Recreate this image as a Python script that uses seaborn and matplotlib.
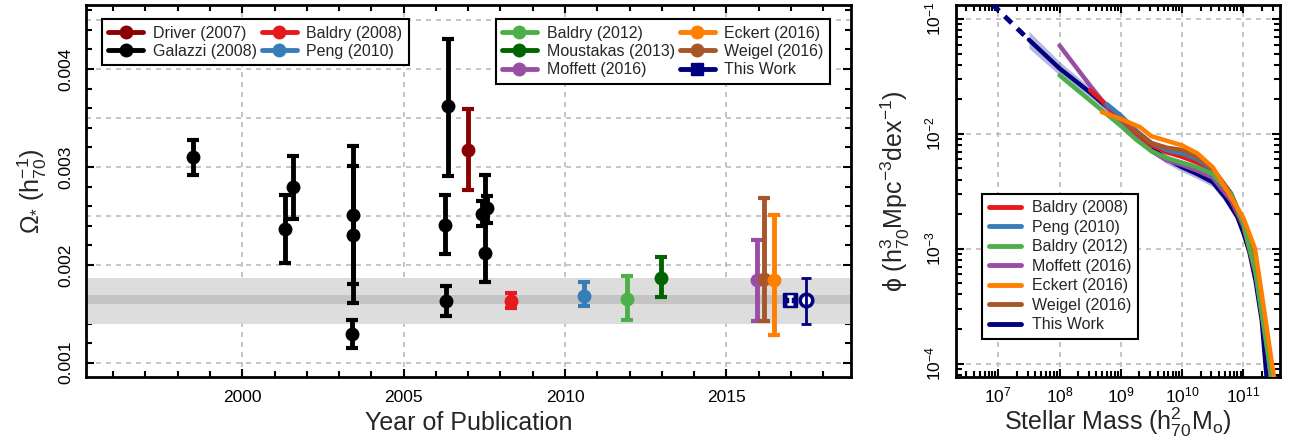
import numpy as np
import pandas as pd
import matplotlib
matplotlib.use('Agg')
import matplotlib.pyplot as plt
from matplotlib.lines import Line2D
from matplotlib.ticker import MultipleLocator, LogLocator, NullFormatter
import seaborn as sns

sns.set_theme(style='ticks')
plt.rcParams['font.family'] = ['Liberation Sans', 'DejaVu Sans']
plt.rcParams['mathtext.fontset'] = 'custom'
plt.rcParams['mathtext.rm'] = 'Liberation Sans'
plt.rcParams['mathtext.it'] = 'Liberation Sans:italic'
plt.rcParams['mathtext.sf'] = 'Liberation Sans'

# ---- left panel: stellar mass density estimates (year, value, low, high)
galazzi_year = [1998.48, 2001.32, 2001.58, 2003.42, 2003.42, 2003.40,
                2006.37, 2006.28, 2006.32, 2007.44, 2007.57, 2007.52]
galazzi_val = [0.00310, 0.00237, 0.00279, 0.00251, 0.00230, 0.00129,
               0.00362, 0.00241, 0.00163, 0.00252, 0.00258, 0.00212]
galazzi_lo = [0.00292, 0.00202, 0.00247, 0.00180, 0.00161, 0.00115,
              0.00291, 0.00211, 0.00148, 0.00240, 0.00243, 0.00182]
galazzi_hi = [0.00328, 0.00271, 0.00311, 0.00321, 0.00301, 0.00144,
              0.00431, 0.00271, 0.00178, 0.00265, 0.00270, 0.00292]

surveys = ['Driver (2007)', 'Baldry (2008)', 'Peng (2010)', 'Baldry (2012)',
           'Moustakas (2013)', 'Moffett (2016)', 'Weigel (2016)', 'Eckert (2016)']
survey_year = [2006.98, 2008.33, 2010.58, 2011.91, 2012.97, 2015.94, 2016.15, 2016.48]
survey_val = [0.00317, 0.00163, 0.00168, 0.00165, 0.00187, 0.00185, 0.00186, 0.00185]
survey_lo = [0.00276, 0.00156, 0.00158, 0.00144, 0.00167, 0.00143, 0.00143, 0.00128]
survey_hi = [0.00359, 0.00171, 0.00182, 0.00189, 0.00208, 0.00225, 0.00268, 0.00251]

this_year = [2016.97, 2017.47]
this_val = [0.00164, 0.00164]
this_lo = [0.00160, 0.00140]
this_hi = [0.00168, 0.00187]

band_outer = [0.00140, 0.00187]
band_inner = [0.00160, 0.00169]

# ---- right panel: stellar mass functions (log M, log phi)
smf = {
    'This Work': ([7.5, 8.0, 8.5, 9.0, 9.25, 9.5, 9.75, 10.0, 10.25, 10.5, 10.7, 10.9, 11.0, 11.1, 11.2, 11.3, 11.38],
                  [-1.18, -1.43, -1.64, -1.87, -2.00, -2.12, -2.22, -2.29, -2.35, -2.42, -2.55, -2.72, -2.86, -3.03, -3.28, -3.62, -4.12]),
    'Moffett (2016)': ([8.0, 8.5, 8.8, 9.0, 9.25, 9.5, 9.75, 10.0, 10.25, 10.5, 10.8, 11.0, 11.2, 11.4, 11.48],
                       [-1.23, -1.58, -1.78, -1.90, -2.03, -2.15, -2.23, -2.27, -2.32, -2.38, -2.58, -2.80, -3.20, -3.85, -4.12]),
    'Baldry (2008)': ([8.5, 9.0, 9.25, 9.5, 9.75, 10.0, 10.25, 10.5, 10.8, 11.0, 11.2, 11.4, 11.45],
                      [-1.62, -1.86, -1.99, -2.10, -2.16, -2.20, -2.25, -2.33, -2.55, -2.80, -3.22, -3.92, -4.12]),
    'Peng (2010)': ([8.77, 9.0, 9.25, 9.5, 9.75, 10.0, 10.25, 10.5, 10.8, 11.0, 11.2, 11.4, 11.45],
                    [-1.74, -1.84, -1.97, -2.08, -2.14, -2.17, -2.22, -2.31, -2.52, -2.78, -3.20, -3.90, -4.12]),
    'Weigel (2016)': ([9.0, 9.25, 9.5, 9.75, 10.0, 10.25, 10.5, 10.8, 11.0, 11.2, 11.4, 11.48],
                      [-1.86, -1.98, -2.08, -2.12, -2.14, -2.20, -2.30, -2.52, -2.77, -3.15, -3.80, -4.12]),
    'Baldry (2012)': ([8.0, 8.5, 9.0, 9.25, 9.5, 9.75, 10.0, 10.25, 10.5, 10.8, 11.0, 11.2, 11.4, 11.46],
                      [-1.49, -1.71, -1.93, -2.05, -2.15, -2.21, -2.25, -2.29, -2.35, -2.53, -2.78, -3.20, -3.90, -4.12]),
    'Eckert (2016)': ([8.69, 9.0, 9.31, 9.5, 9.75, 10.0, 10.25, 10.5, 10.75, 11.0, 11.19, 11.33, 11.5],
                      [-1.81, -1.87, -1.94, -2.02, -2.06, -2.10, -2.17, -2.29, -2.51, -2.73, -3.00, -3.50, -4.12]),
}
this_band = [0.075, 0.06, 0.045, 0.04, 0.04, 0.04, 0.04, 0.04, 0.04, 0.04, 0.04, 0.04, 0.04, 0.04, 0.04, 0.04, 0.04]
this_dash_logm = [6.90, 7.45]
this_dash_logphi = [-0.87, -1.155]

colors = {
    'Driver (2007)': '#8B0000', 'Galazzi (2008)': 'black', 'Baldry (2008)': '#E41A1C',
    'Peng (2010)': '#377EB8', 'Baldry (2012)': '#4DAF4A', 'Moustakas (2013)': '#006400',
    'Moffett (2016)': '#984EA3', 'Eckert (2016)': '#FF7F00', 'Weigel (2016)': '#A65628',
    'This Work': '#000080',
}

fig = plt.figure(figsize=(12.92, 4.46), dpi=100)
ax1 = fig.add_axes([0.0666, 0.1547, 0.5921, 0.834])
ax2 = fig.add_axes([0.7397, 0.1547, 0.2511, 0.834])

grid_kw = dict(color='#BBBBBB', lw=1.2, ls=(0, (3, 3)), zorder=0)
eb_kw = dict(fmt='o', ms=9, lw=3.5, capsize=4.5, capthick=3, zorder=5)

# bands
ax1.axhspan(band_outer[0], band_outer[1], color='#DDDDDD', lw=0, zorder=1)
ax1.axhspan(band_inner[0], band_inner[1], color='#C4C4C4', lw=0, zorder=1)
for yv in np.arange(0.001, 0.0046, 0.0005):
    ax1.axhline(yv, **grid_kw)
for xv in [2000, 2005, 2010, 2015]:
    ax1.axvline(xv, **grid_kw)

g = np.array(galazzi_val)
ax1.errorbar(galazzi_year, g, yerr=[g - np.array(galazzi_lo), np.array(galazzi_hi) - g],
             color='black', **eb_kw)
for name, x, v, lo, hi in zip(surveys, survey_year, survey_val, survey_lo, survey_hi):
    ax1.errorbar([x], [v], yerr=[[v - lo], [hi - v]], color=colors[name], **eb_kw)

navy = colors['This Work']
# square estimate
ax1.plot([this_year[0]], [this_val[0]], marker='s', ms=10, color=navy, zorder=6)
ax1.errorbar([this_year[0]], [this_val[0]],
             yerr=[[this_val[0] - this_lo[0]], [this_hi[0] - this_val[0]]],
             fmt='none', ecolor='white', lw=1.8, capsize=2.5, capthick=1.8, zorder=7)
# circle estimate
ax1.plot([this_year[1]], [this_val[1]], marker='o', ms=9, mfc='white', mec=navy, mew=2.5, zorder=6)
ax1.errorbar([this_year[1]], [this_val[1]],
             yerr=[[this_val[1] - this_lo[1]], [this_hi[1] - this_val[1]]],
             fmt='none', ecolor=navy, lw=2, capsize=3.5, capthick=2, zorder=7)

ax1.set_xlim(1995.16, 2018.86)
ax1.set_ylim(0.000854, 0.004654)
ax1.xaxis.set_major_locator(MultipleLocator(5))
ax1.xaxis.set_minor_locator(MultipleLocator(1))
ax1.yaxis.set_major_locator(MultipleLocator(0.001))
ax1.yaxis.set_minor_locator(MultipleLocator(0.0002))
ax1.set_yticklabels(['%.3f' % t for t in ax1.get_yticks()])
ax1.set_xlabel('Year of Publication', fontsize=18, labelpad=5)
ax1.set_ylabel(r'$\Omega_{*}\ (\mathrm{h}_{70}^{-1})$', fontsize=18, labelpad=7)

def leg_handle(name, marker='o'):
    return Line2D([], [], color=colors[name], lw=3.5, marker=marker, ms=9)

leg_kw = dict(fontsize=11.5, frameon=True, fancybox=False, edgecolor='black',
              handlelength=2.2, handletextpad=0.6, columnspacing=0.3,
              labelspacing=0.2, borderpad=0.4, framealpha=1)
l1 = ['Driver (2007)', 'Galazzi (2008)', 'Baldry (2008)', 'Peng (2010)']
h1 = [leg_handle(n) for n in l1]
leg1 = ax1.legend(h1, l1, ncol=2, loc='upper left', bbox_to_anchor=(0.01, 0.983), **leg_kw)
leg1.get_frame().set_linewidth(1.5)
ax1.add_artist(leg1)
n2 = ['Baldry (2012)', 'Moustakas (2013)', 'Moffett (2016)', 'Eckert (2016)', 'Weigel (2016)', 'This Work']
h2 = [leg_handle(n, 's' if n == 'This Work' else 'o') for n in n2]
leg2 = ax1.legend(h2, n2, ncol=2, loc='upper right', bbox_to_anchor=(0.983, 0.983), **leg_kw)
leg2.get_frame().set_linewidth(1.5)

# ---- right panel
for v in [1e7, 1e8, 1e9, 1e10, 1e11]:
    ax2.axvline(v, **grid_kw)
for v in [1e-4, 1e-3, 1e-2, 1e-1]:
    ax2.axhline(v, **grid_kw)

rows = []
for name, (lm, lp) in smf.items():
    for a, b in zip(lm, lp):
        rows.append((name, 10 ** a, 10 ** b))
df = pd.DataFrame(rows, columns=['survey', 'mass', 'phi'])

tm = np.array(smf['This Work'][0])
tp = np.array(smf['This Work'][1])
tb = np.array(this_band)
ax2.fill_between(10 ** tm, 10 ** (tp - tb), 10 ** (tp + tb), color='#8080C8', alpha=0.55, lw=0, zorder=2)
ax2.plot(10 ** np.array(this_dash_logm), 10 ** np.array(this_dash_logphi), color=navy,
         lw=3.5, ls=(0, (2, 1.6)), zorder=3)
for name in smf:
    sns.lineplot(data=df[df.survey == name], x='mass', y='phi', color=colors[name], lw=3.2,
                 sort=False, estimator=None, ax=ax2, zorder=3)

ax2.set_xscale('log')
ax2.set_yscale('log')
ax2.set_xlim(10 ** 6.305, 10 ** 11.6)
ax2.set_ylim(10 ** -4.117, 10 ** -0.878)
ax2.xaxis.set_major_locator(LogLocator(base=10, numticks=20))
ax2.xaxis.set_minor_locator(LogLocator(base=10, subs=np.arange(2, 10), numticks=20))
ax2.yaxis.set_major_locator(LogLocator(base=10, numticks=20))
ax2.yaxis.set_minor_locator(LogLocator(base=10, subs=np.arange(2, 10), numticks=20))
ax2.xaxis.set_minor_formatter(NullFormatter())
ax2.yaxis.set_minor_formatter(NullFormatter())
ax2.set_xlabel(r'Stellar Mass $(\mathrm{h}_{70}^{2}\mathrm{M}_{\mathrm{o}})$', fontsize=18, labelpad=0)
ax2.set_ylabel(r'ϕ $(\mathrm{h}_{70}^{3}\mathrm{Mpc}^{-3}\mathrm{dex}^{-1})$', fontsize=18, labelpad=8)

order = ['Baldry (2008)', 'Peng (2010)', 'Baldry (2012)', 'Moffett (2016)', 'Eckert (2016)', 'Weigel (2016)', 'This Work']
h3 = [Line2D([], [], color=colors[n], lw=3.5) for n in order]
leg3 = ax2.legend(h3, order, loc='lower left', bbox_to_anchor=(0.058, 0.082), fontsize=11.5,
                  frameon=True, fancybox=False, edgecolor='black', handlelength=2.0,
                  handletextpad=0.7, labelspacing=0.28, borderpad=0.4, framealpha=1)
leg3.get_frame().set_linewidth(1.5)

for ax in (ax1, ax2):
    for s in ax.spines.values():
        s.set_linewidth(2)
        s.set_color('black')
    ax.tick_params(which='both', direction='in', top=True, right=True, width=1.5, colors='black')
    ax.tick_params(which='major', length=6, labelsize=12.5, pad=9)
    ax.tick_params(which='minor', length=4)
ax2.tick_params(axis='x', which='major', pad=6)
plt.setp(ax1.get_yticklabels(), rotation=90, va='center')
plt.setp(ax2.get_yticklabels(), rotation=90, va='center')

fig.savefig('out.png', dpi=100)
